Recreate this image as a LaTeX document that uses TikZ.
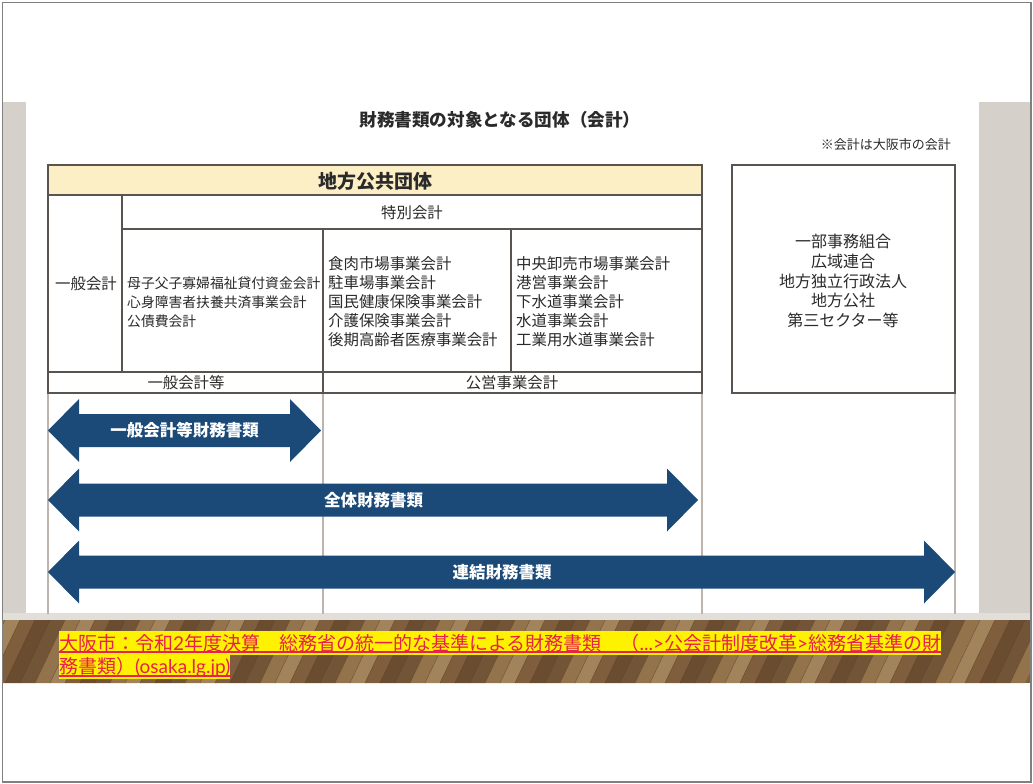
\documentclass[tikz,border=0pt]{standalone}
\usepackage{fontspec}
\setmainfont{Noto Sans CJK JP}
\newfontfamily\latfont{Lato}
\definecolor{tabline}{HTML}{5A5450}
\definecolor{guide}{HTML}{BDB5AD}
\definecolor{hdr}{HTML}{FCEFC6}
\definecolor{arrowblue}{HTML}{1B4A78}
\definecolor{txt}{HTML}{2A2A2A}
\definecolor{linkred}{HTML}{E8204C}
\definecolor{hilite}{HTML}{FFF200}
\definecolor{slidegrey}{HTML}{D5D1CA}
\definecolor{stripgrey}{HTML}{E2DFDA}
\definecolor{woodA}{HTML}{7E5E3C}
\definecolor{woodB}{HTML}{93734C}
\definecolor{woodC}{HTML}{6A4C30}
\definecolor{woodD}{HTML}{A2845C}
\definecolor{woodE}{HTML}{725436}
\newcommand\dblarr[3]{%
  \fill[arrowblue] (#1,#3) -- (#1+31,#3-31.5) -- (#1+31,#3-16.5) -- (#2-31,#3-16.5)
   -- (#2-31,#3-31.5) -- (#2,#3) -- (#2-31,#3+31.5) -- (#2-31,#3+16.5)
   -- (#1+31,#3+16.5) -- (#1+31,#3+31.5) -- cycle;}
\tikzset{
  tab/.style={draw=tabline,line width=1.3pt},
  guideline/.style={draw=guide,line width=1.6pt},
  celltxt/.style={inner sep=0pt,text=txt,font=\fontsize{15.4}{19}\selectfont},
  coltxt/.style={celltxt,anchor=west,align=left},
  arrtxt/.style={inner sep=0pt,text=white,font=\bfseries\fontsize{16.5}{20}\selectfont},
  linktxt/.style={inner sep=0pt,anchor=west,fill=hilite,text=linkred,minimum height=24pt,
    font=\fontsize{19}{24}\selectfont},
  uline/.style={draw=linkred,line width=1.3pt}
}
\begin{document}
\begin{tikzpicture}[x=1pt,y=-1pt]
\useasboundingbox (0,0) rectangle (1033,784);
\fill[white] (0,0) rectangle (1033,784);
% slide background
\fill[slidegrey] (3,102) rectangle (1031,614);
\fill[stripgrey] (3,613) rectangle (1031,620);
\fill[white] (26,102) rectangle (979,613);
% wood band
\begin{scope}
\clip (3,620) rectangle (1031,683);
\fill[woodA] (3,620) rectangle (1031,683);
\foreach \i in {0,...,70}{
  \pgfmathtruncatemacro\k{mod(\i*37+11,5)}
  \pgfmathsetmacro\xa{-40+\i*15}
  \ifcase\k \def\woodcol{woodA}\or\def\woodcol{woodB}\or\def\woodcol{woodC}\or\def\woodcol{woodD}\else\def\woodcol{woodE}\fi
  \fill[\woodcol] (\xa,683) -- (\xa+15,683) -- (\xa+15+30,620) -- (\xa+30,620) -- cycle;
  \draw[woodC!85!black,line width=0.5pt,opacity=0.6] (\xa,683) -- (\xa+30,620);
}
\end{scope}
% outer frame
\draw[gray,line width=1.5pt] (2.5,2.5) rectangle (1031,782);
% title and note
\node[inner sep=0pt,text=txt,font=\bfseries\fontsize{17.6}{20}\selectfont] (title) at (500,120) {財務書類の対象となる団体（会計）};
\node[inner sep=0pt,text=txt,anchor=east,font=\fontsize{13}{15}\selectfont] (note) at (951,145) {※会計は大阪市の会計};
% guide lines below table
\draw[guideline] (48,393) -- (48,614);
\draw[guideline] (323,393) -- (323,614);
\draw[guideline] (702,393) -- (702,614);
\draw[guideline] (955,393) -- (955,614);
% table
\fill[hdr] (48,165) rectangle (702,195);
\draw[tab] (48,165) rectangle (702,393);
\draw[tab] (48,195) -- (702,195);
\draw[tab] (122,195) -- (122,372);
\draw[tab] (122,229) -- (702,229);
\draw[tab] (323,229) -- (323,393);
\draw[tab] (511,229) -- (511,372);
\draw[tab] (48,372) -- (702,372);
\node[inner sep=0pt,text=txt,font=\bfseries\fontsize{19}{22}\selectfont] (lg) at (375,181) {地方公共団体};
\node[celltxt] (tokubetsu) at (412,213) {特別会計};
\node[celltxt] (ippan) at (86,284) {一般会計};
\node[coltxt,font=\fontsize{13.8}{19}\selectfont] (col1) at (127,302.5) {母子父子寡婦福祉貸付資金会計\\心身障害者扶養共済事業会計\\公債費会計};
\node[coltxt] (col2) at (328,302) {食肉市場事業会計\\駐車場事業会計\\国民健康保険事業会計\\介護保険事業会計\\後期高齢者医療事業会計};
\node[coltxt] (col3) at (516,302) {中央卸売市場事業会計\\港営事業会計\\下水道事業会計\\水道事業会計\\工業用水道事業会計};
\node[celltxt] (ippanto) at (186,383) {一般会計等};
\node[celltxt] (koei) at (512,383) {公営事業会計};
% right box
\draw[tab] (732,165) rectangle (955,393);
\node[celltxt,align=center,font=\fontsize{16}{19.8}\selectfont] (others) at (843,281) {一部事務組合\\広域連合\\地方独立行政法人\\地方公社\\第三セクター等};
% arrows
\dblarr{48}{321}{430.5}
\node[arrtxt] (a1) at (184.5,430) {一般会計等財務書類};
\dblarr{48}{698}{500}
\node[arrtxt] (a2) at (373.5,500) {全体財務書類};
\dblarr{48}{955}{572}
\node[arrtxt] (a3) at (502,572) {連結財務書類};
% link
\node[linktxt] (link1) at (59,643) {大阪市：令和{\latfont 2}年度決算　総務省の統一的な基準による財務書類　（{\latfont ...>}公会計制度改革{\latfont >}総務省基準の財};
\node[linktxt] (link2) at (59,667) {務書類）{\latfont (osaka.lg.jp)}};
\coordinate (ul1) at (0,652);
\coordinate (ul2) at (0,676);
\draw[uline] (link1.west |- ul1) -- (link1.east |- ul1);
\draw[uline] (link2.west |- ul2) -- (link2.east |- ul2);
\end{tikzpicture}
\end{document}
